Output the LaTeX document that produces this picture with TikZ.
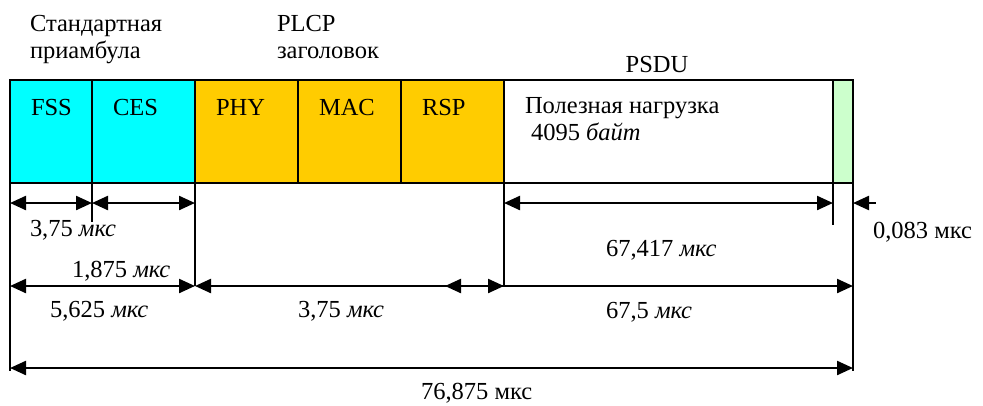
\documentclass[tikz,border=0pt]{standalone}
\usepackage{fontspec}
\setmainfont{Liberation Serif}
\usetikzlibrary{arrows.meta}
\definecolor{cyanfill}{HTML}{00FFFF}
\definecolor{orangefill}{HTML}{FFCC00}
\definecolor{greenfill}{HTML}{CCFFCC}
\begin{document}
\begin{tikzpicture}[x=1pt,y=-1pt,
  every node/.style={inner sep=0pt, outer sep=0pt},
  txt/.style={font=\fontsize{24.5}{28}\selectfont, anchor=base west},
  field/.style={draw=black, line width=1.3pt, anchor=north west, minimum height=103pt},
  ext/.style={line width=1.2pt},
  tip/.tip={Triangle[length=16pt,width=14pt]},
  dim/.style={line width=2.3pt, tip-tip},
  dimr/.style={line width=2.3pt, -tip},
  diml/.style={line width=2.3pt, tip-},
]
\useasboundingbox (0,0) rectangle (983,405);

% fields
\node[field, fill=cyanfill, minimum width=82pt] (fss) at (10,80) {};
\node[field, fill=cyanfill, minimum width=103pt] (ces) at (92,80) {};
\node[field, fill=orangefill, minimum width=103pt] (phy) at (195,80) {};
\node[field, fill=orangefill, minimum width=103pt] (mac) at (298,80) {};
\node[field, fill=orangefill, minimum width=103pt] (rsp) at (401,80) {};
\node[field, fill=white, minimum width=329pt] (psdu) at (504,80) {};
\node[field, fill=greenfill, minimum width=20pt] (tail) at (833,80) {};

% field texts
\node[txt] (tfss) at (31,115) {FSS};
\node[txt] (tces) at (113,115) {CES};
\node[txt] (tphy) at (216,115) {PHY};
\node[txt] (tmac) at (319,115) {MAC};
\node[txt] (trsp) at (422,115) {RSP};
\node[txt] (tpay1) at (525,113) {Полезная нагрузка};
\node[txt] (tpay2) at (531,140) {4095 \textit{байт}};

% headings
\node[txt] (h1a) at (30,31) {Стандартная};
\node[txt] (h1b) at (30,58) {приамбула};
\node[txt] (h2a) at (277,31) {PLCP};
\node[txt] (h2b) at (277,58) {заголовок};
\node[txt, anchor=base] (h3) at (657,72) {PSDU};

% coordinates
\coordinate (a0) at (10,203);
\coordinate (a1) at (92,203);
\coordinate (a2) at (195,203);
\coordinate (a3) at (504,203);
\coordinate (a4) at (833,203);
\coordinate (a5) at (853,203);
\coordinate (a6) at (876,203);
\coordinate (b0) at (10,286);
\coordinate (b2) at (195,286);
\coordinate (b25) at (445,286);
\coordinate (b3) at (504,286);
\coordinate (b5) at (853,286);
\coordinate (c0) at (10,368);
\coordinate (c5) at (853,368);
\coordinate (e1) at (92,222);
\coordinate (e4) at (833,225);
\coordinate (e0) at (10,371);
\coordinate (e5) at (853,371);

% extension lines
\draw[ext] (fss.south west) -- (e0);
\draw[ext] (fss.south east) -- (e1);
\draw[ext] (ces.south east) -- (b2);
\draw[ext] (rsp.south east) -- (b3);
\draw[ext] (psdu.south east) -- (e4);
\draw[ext] (tail.south east) -- (e5);

% dimension arrows
\draw[dim] (a0) -- (a1);
\draw[dim] (a1) -- (a2);
\draw[dim] (a3) -- (a4);
\draw[diml] (a5) -- (a6);
\draw[dim] (b0) -- (b2);
\draw[dim] (b2) -- (b3);
\draw[diml] (b25) -- (b3);
\draw[dimr] (b3) -- (b5);
\draw[dim] (c0) -- (c5);

% dimension labels
\node[txt] (l1) at (30,236) {3,75 \textit{мкс}};
\node[txt] (l2) at (72,277) {1,875 \textit{мкс}};
\node[txt] (l3) at (50,317) {5,625 \textit{мкс}};
\node[txt] (l4) at (298,317) {3,75 \textit{мкс}};
\node[txt] (l5) at (606,256) {67,417 \textit{мкс}};
\node[txt] (l6) at (873,238) {0,083 мкс};
\node[txt] (l7) at (606,318) {67,5 \textit{мкс}};
\node[txt] (l8) at (421,399) {76,875 мкс};
\end{tikzpicture}
\end{document}
